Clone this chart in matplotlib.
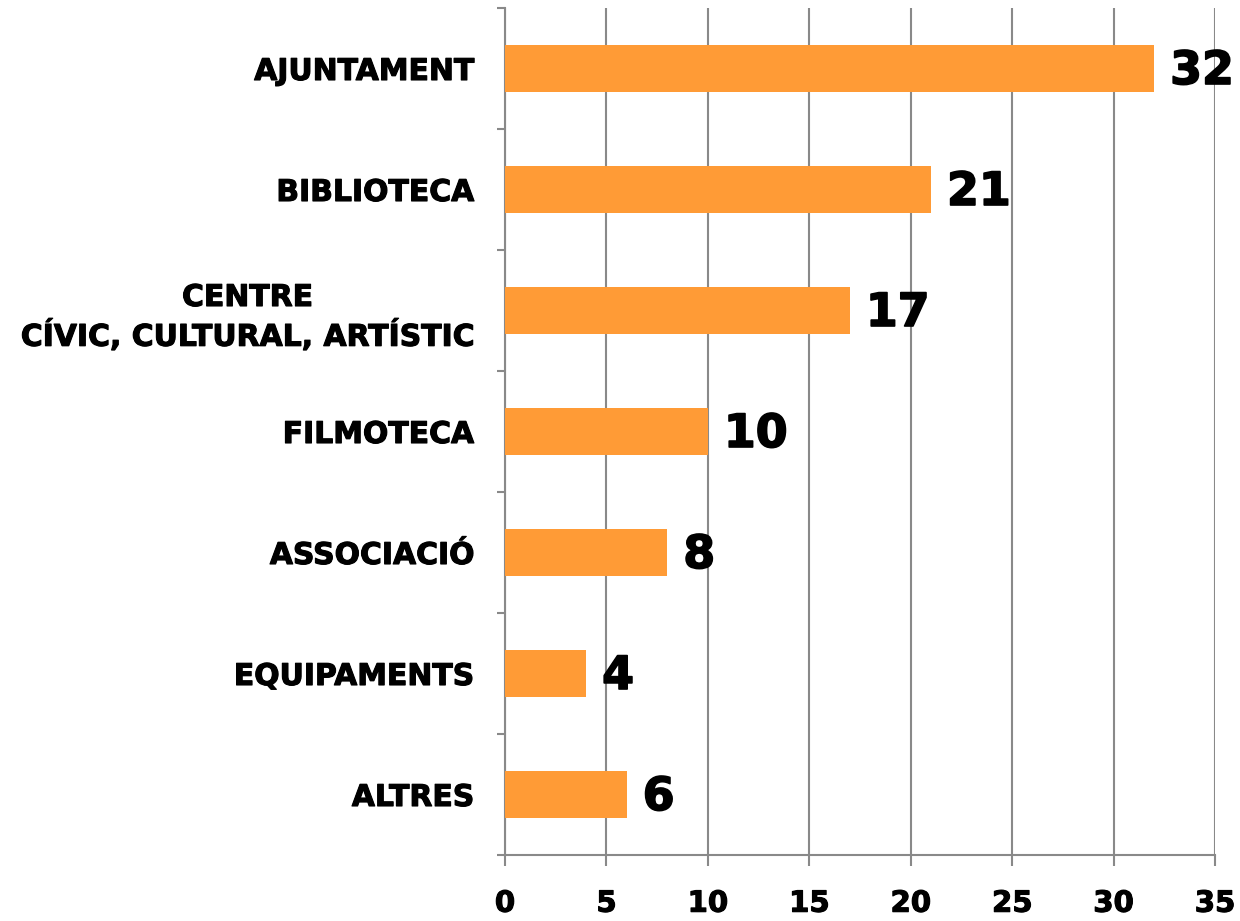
import matplotlib
matplotlib.use("Agg")
import matplotlib.pyplot as plt
import matplotlib.patheffects as pe
import numpy as np

categories = ["AJUNTAMENT", "BIBLIOTECA", "CENTRE\nCÍVIC, CULTURAL, ARTÍSTIC",
              "FILMOTECA", "ASSOCIACIÓ", "EQUIPAMENTS", "ALTRES"]
values = [32, 21, 17, 10, 8, 4, 6]
x_ticks = [0, 5, 10, 15, 20, 25, 30, 35]

plt.rcParams['font.family'] = ['DejaVu Sans']
bar_color = "#FF9B36"
gray = "#898989"
heavy = [pe.withStroke(linewidth=0.8, foreground="black")]

fig = plt.figure(figsize=(12.4, 9.21), dpi=100)
ax = fig.add_axes([505/1240, 1 - 855/921, (1215 - 505)/1240, (855 - 8)/921])

pos = np.arange(len(categories))
ax.barh(pos, values, height=0.39, color=bar_color, zorder=3)

for p, v in zip(pos, values):
    ax.annotate(str(v), xy=(v, p), xytext=(16, -3), textcoords="offset pixels",
                ha="left", va="center", fontsize=33, fontweight="bold", color="black",
                zorder=4, path_effects=[pe.withStroke(linewidth=1.2, foreground="black")])

ax.set_xlim(0, 35)
ax.set_ylim(len(categories) - 0.5, -0.5)

ax.set_xticks(x_ticks)
ax.set_xticklabels([str(t) for t in x_ticks], fontsize=21, fontweight="bold")
ax.set_yticks(pos)
ax.set_yticklabels(categories, fontsize=21.5, fontweight="bold", multialignment="center", linespacing=1.3)
ax.set_yticks(np.arange(-0.5, len(categories), 1.0), minor=True)
for lbl in ax.get_xticklabels() + ax.get_yticklabels():
    lbl.set_path_effects(heavy)

ax.tick_params(axis="y", which="major", length=0, pad=22)
ax.tick_params(axis="y", which="minor", length=6, width=1.5, color=gray)
ax.tick_params(axis="x", which="major", length=8, width=1.5, color=gray, pad=17, direction="out")

ax.grid(axis="x", color=gray, linewidth=1.5, zorder=0)
ax.set_axisbelow(True)
for s in ["top", "right"]:
    ax.spines[s].set_visible(False)
for s in ["left", "bottom"]:
    ax.spines[s].set_color(gray)
    ax.spines[s].set_linewidth(1.5)

fig.savefig("out.png", dpi=100)
